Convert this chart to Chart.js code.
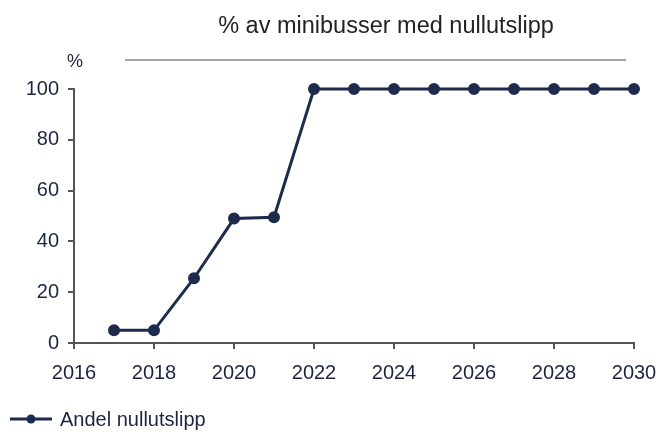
<!DOCTYPE html>
<html>
<head>
<meta charset="utf-8">
<script src="https://cdn.jsdelivr.net/npm/chart.js@4"></script>
<style>
  html, body { margin: 0; padding: 0; background: #fff; }
  #wrap { width: 659px; height: 432px; }
</style>
</head>
<body>
<div id="wrap"><canvas id="grafikk" width="659" height="432"></canvas></div>
<script>
// data lest av figuren
const aar = [2017, 2018, 2019, 2020, 2021, 2022, 2023, 2024, 2025, 2026, 2027, 2028, 2029, 2030];
const andelNullutslipp = [5, 5, 25.5, 49, 49.5, 100, 100, 100, 100, 100, 100, 100, 100, 100];
const xTicks = [2016, 2018, 2020, 2022, 2024, 2026, 2028, 2030];
const yTicks = [0, 20, 40, 60, 80, 100];
const tittel = '% av minibusser med nullutslipp';
const enhet = '%';
const serieNavn = 'Andel nullutslipp';

const navy = '#1d2b4c';
const tekstFarge = '#1c2442';
const fontFam = '"Liberation Sans", Arial, sans-serif';

// tittel, linje under tittel, enhet og forklaring
const pynt = {
    id: 'pynt',
    afterDraw(chart) {
        const c = chart.ctx;
        c.save();
        c.fillStyle = '#222';
        c.font = '23.5px ' + fontFam;
        c.textAlign = 'center';
        c.textBaseline = 'alphabetic';
        c.fillText(tittel, 386, 33);

        c.strokeStyle = '#a6a6a6';
        c.lineWidth = 2;
        c.beginPath();
        c.moveTo(125, 60);
        c.lineTo(626, 60);
        c.stroke();

        c.fillStyle = tekstFarge;
        c.font = '18px ' + fontFam;
        c.textBaseline = 'middle';
        c.fillText(enhet, 75, 62);

        // forklaring
        c.strokeStyle = navy;
        c.lineWidth = 3;
        c.beginPath();
        c.moveTo(10, 419);
        c.lineTo(52, 419);
        c.stroke();
        c.fillStyle = navy;
        c.beginPath();
        c.arc(31, 419, 4.5, 0, Math.PI * 2);
        c.fill();
        c.fillStyle = tekstFarge;
        c.font = '20px ' + fontFam;
        c.textAlign = 'left';
        c.fillText(serieNavn, 60, 420);
        c.restore();
    }
};

const ctx = document.getElementById('grafikk').getContext('2d');
const grafikk = new Chart(ctx, {
    type: 'line',
    data: {
        datasets: [{
            label: serieNavn,
            data: aar.map((a, i) => ({ x: a, y: andelNullutslipp[i] })),
            borderColor: navy,
            backgroundColor: navy,
            borderWidth: 3,
            pointRadius: 4.5,
            pointBackgroundColor: navy,
            pointBorderColor: navy,
            clip: false,
            tension: 0
        }]
    },
    options: {
        responsive: false,
        animation: false,
        layout: { padding: { top: 89, right: 25, bottom: 0, left: 0 } },
        plugins: {
            legend: { display: false },
            tooltip: { enabled: false }
        },
        scales: {
            x: {
                type: 'linear',
                min: xTicks[0],
                max: xTicks[xTicks.length - 1],
                afterBuildTicks: s => { s.ticks = xTicks.map(v => ({ value: v })); },
                afterFit: s => {
                    s.height = 89;
                    s.paddingLeft = 0;
                    s.paddingRight = 0;
                },
                border: { display: true, color: '#555', width: 2 },
                grid: { display: true, drawOnChartArea: false, drawTicks: true, tickLength: 6, color: '#555', lineWidth: 2 },
                ticks: {
                    color: tekstFarge,
                    font: { family: fontFam, size: 20 },
                    padding: 12,
                    maxRotation: 0,
                    callback: v => String(v)
                }
            },
            y: {
                min: 0,
                max: 100,
                afterBuildTicks: s => { s.ticks = yTicks.map(v => ({ value: v })); },
                afterFit: s => { s.width = 74; },
                border: { display: true, color: '#555', width: 2 },
                grid: { display: true, drawOnChartArea: false, drawTicks: true, tickLength: 6, color: '#555', lineWidth: 2 },
                ticks: {
                    color: tekstFarge,
                    font: { family: fontFam, size: 20 },
                    padding: 9,
                    callback: v => String(v)
                }
            }
        }
    },
    plugins: [pynt]
});
</script>
</body>
</html>
